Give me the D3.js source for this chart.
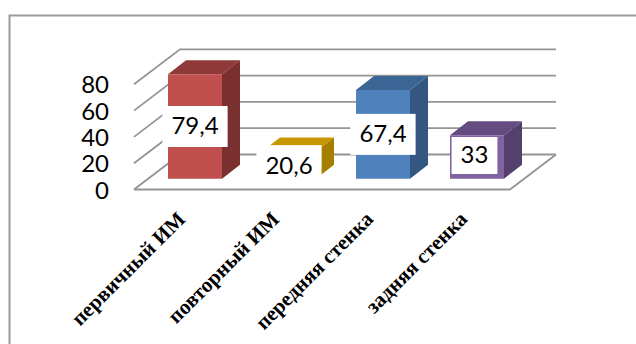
<!DOCTYPE html>
<html><head><meta charset="utf-8">
<script src="https://cdn.jsdelivr.net/npm/d3@7"></script>
<style>html,body{margin:0;padding:0;background:#fff;overflow:hidden}svg{display:block}</style>
</head><body><div id="c"></div>
<script>
const categories = ["первичный ИМ","повторный ИМ","передняя стенка","задняя стенка"];
const values = [79.4,20.6,67.4,33];
const valueLabels = ["79,4","20,6","67,4","33"];
const yTicks = [0,20,40,60,80];
const frontColors = ["#C0504D","#C89800","#4F81BD","#8064A2"];
const topColors = ["#8F3A38","#C89800","#3B6594","#644C80"];
const sideColors = ["#7A302E","#A67E00","#335780","#543F6D"];

const W=636,H=344;
const floorL=134,floorR=510,depthX=46,depthY=35;
const barShiftX=14,barShiftY=10.8,barDX=18,barDY=14;
const svg=d3.select("#c").append("svg").attr("width",W).attr("height",H);
svg.append("rect").attr("width",W).attr("height",H).attr("fill","#fff");

// outer frame
svg.append("path").attr("d",d3.line()([[9.5,H],[9.5,15.5],[W,15.5]]))
  .attr("fill","none").attr("stroke","#9a9a9a").attr("stroke-width",2);

const y=d3.scaleLinear().domain([0,80]).range([189.5,84.3]);
const x=d3.scaleBand().domain(categories).range([floorL,floorR]).paddingInner(0.4255).paddingOuter(0.2128);

const gridC="#949494";
const grid=svg.append("g").attr("fill","none").attr("stroke",gridC).attr("stroke-width",1.8);
yTicks.forEach(t=>{
  grid.append("path").attr("d",d3.line()([[floorL,y(t)],[floorL+depthX,y(t)-depthY],[floorR+depthX,y(t)-depthY]]));
});
grid.append("path").attr("d",d3.line()([[floorL,y(0)],[floorR,y(0)],[floorR+depthX,y(0)-depthY]]));

// tick labels
const valueFont="Lato";
const valueSize=24;
svg.append("g").selectAll("text").data(yTicks).join("text")
  .attr("x",109).attr("y",d=>y(d)+3).attr("text-anchor","end").attr("dominant-baseline","middle")
  .attr("font-family",valueFont).attr("font-size",valueSize).attr("fill","#000").text(d=>d);

// bars
const base=y(0)-barShiftY;
const hScale=v=>y(0)-y(v);
const bars=svg.append("g").selectAll("g").data(categories).join("g");
bars.each(function(c,i){
  const g=d3.select(this);
  const x0=x(c)+barShiftX,x1=x0+x.bandwidth(),yt=base-hScale(values[i]);
  const poly=(pts,col)=>g.append("polygon").attr("points",pts.map(p=>p.join(",")).join(" ")).attr("fill",col);
  poly([[x0,yt],[x1,yt],[x1+barDX,yt-barDY],[x0+barDX,yt-barDY]],topColors[i]);
  poly([[x1,yt],[x1+barDX,yt-barDY],[x1+barDX,base-barDY],[x1,base]],sideColors[i]);
  poly([[x0,yt],[x1,yt],[x1,base],[x0,base]],frontColors[i]);
});

// value labels
const labelPadX=[9,9,9,9];
const labelH=[41,42,41,37];
const labelNudgeY=[0,1,0,-1.5];
const labelNudgeX=[0,0,0,-2.5];
const labels=svg.append("g").selectAll("g").data(categories).join("g");
labels.each(function(c,i){
  const g=d3.select(this);
  const cx=x(c)+barShiftX+x.bandwidth()/2+labelNudgeX[i],cy=base-hScale(values[i])/2+labelNudgeY[i];
  const r=g.append("rect").attr("fill","#fff");
  const t=g.append("text").attr("x",cx).attr("y",cy+1.5).attr("text-anchor","middle").attr("dominant-baseline","middle")
    .attr("font-family",valueFont).attr("font-size",valueSize).attr("fill","#000").text(valueLabels[i]);
  const w=t.node().getComputedTextLength()+labelPadX[i]*2;
  r.attr("x",cx-w/2).attr("width",w).attr("y",cy-labelH[i]/2).attr("height",labelH[i]);
});

// category labels
svg.append("g").selectAll("text").data(categories).join("text")
  .attr("transform",c=>`translate(${x(c)+x.bandwidth()/2+barShiftX-12},217) rotate(-45)`)
  .attr("text-anchor","end").attr("dominant-baseline","middle")
  .attr("font-family","'Liberation Serif'").attr("font-weight","bold").attr("font-size",21).attr("fill","#000").text(c=>c);
</script></body></html>
